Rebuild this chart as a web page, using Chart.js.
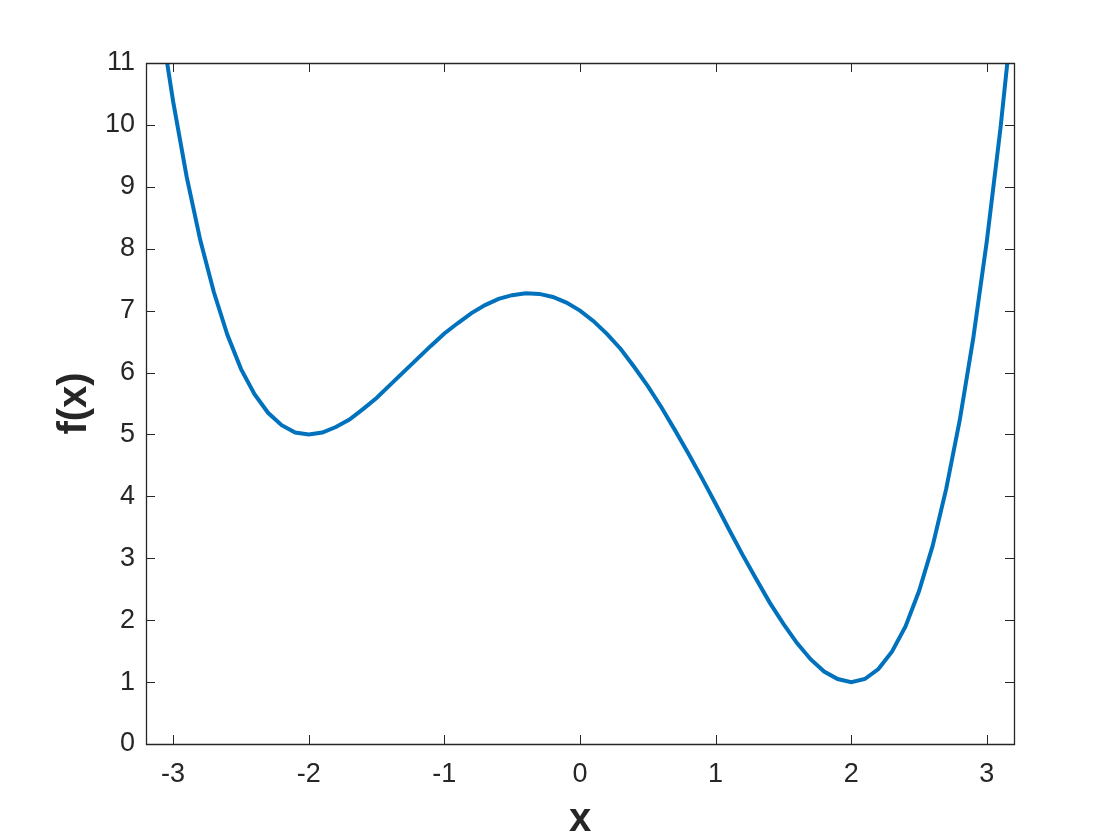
<!DOCTYPE html>
<html>
<head>
<meta charset="utf-8">
<script src="https://cdn.jsdelivr.net/npm/chart.js@4.4.1/dist/chart.umd.min.js"></script>
<style>
html,body{margin:0;padding:0;background:#fff;}
#wrap{width:1120px;height:840px;position:relative;}
</style>
</head>
<body>
<div id="wrap"><canvas id="c" width="1120" height="840"></canvas></div>
<script>
const xValues = [-3.2,-3.1,-3.0,-2.9,-2.8,-2.7,-2.6,-2.5,-2.4,-2.3,-2.2,-2.1,-2.0,-1.9,-1.8,-1.7,-1.6,-1.5,-1.4,-1.3,-1.2,-1.1,-1.0,-0.9,-0.8,-0.7,-0.6,-0.5,-0.4,-0.3,-0.2,-0.1,0.0,0.1,0.2,0.3,0.4,0.5,0.6,0.7,0.8,0.9,1.0,1.1,1.2,1.3,1.4,1.5,1.6,1.7,1.8,1.9,2.0,2.1,2.2,2.3,2.4,2.5,2.6,2.7,2.8,2.9,3.0,3.1,3.2];
const fValues = [13.44,11.79,10.38,9.16,8.14,7.30,6.61,6.06,5.65,5.35,5.15,5.03,5.00,5.03,5.12,5.24,5.41,5.59,5.80,6.01,6.22,6.43,6.63,6.80,6.96,7.09,7.19,7.25,7.28,7.27,7.22,7.13,7.00,6.83,6.62,6.38,6.09,5.78,5.44,5.07,4.69,4.29,3.88,3.46,3.05,2.66,2.28,1.94,1.63,1.37,1.17,1.05,1.00,1.05,1.21,1.49,1.90,2.47,3.20,4.12,5.23,6.56,8.13,9.94,12.03];
const xTicks = [-3,-2,-1,0,1,2,3];
const yTicks = [0,1,2,3,4,5,6,7,8,9,10,11];
const xLabel = 'x';
const yLabel = 'f(x)';

const points = xValues.map((x,i)=>({x:x,y:fValues[i]}));
const FONT = "'Liberation Sans', Arial, Helvetica, sans-serif";
const TXT = '#262626';

const boxPlugin = {
  id:'box',
  afterDatasetsDraw(chart){
    const ctx = chart.ctx, a = chart.chartArea;
    const xs = chart.scales.x, ys = chart.scales.y;
    ctx.save();
    ctx.strokeStyle = TXT;
    ctx.lineWidth = 1.3;
    ctx.beginPath();
    ctx.rect(Math.round(a.left)+0.5, Math.round(a.top)+0.5, Math.round(a.right-a.left), Math.round(a.bottom-a.top));
    ctx.stroke();
    const L = 9;
    ctx.lineWidth = 1;
    ctx.beginPath();
    xs.ticks.forEach(t=>{
      const px = Math.round(xs.getPixelForValue(t.value))+0.5;
      ctx.moveTo(px,a.bottom); ctx.lineTo(px,a.bottom-L);
      ctx.moveTo(px,a.top); ctx.lineTo(px,a.top+L);
    });
    ys.ticks.forEach(t=>{
      const py = Math.round(ys.getPixelForValue(t.value))+0.5;
      ctx.moveTo(a.left,py); ctx.lineTo(a.left+L,py);
      ctx.moveTo(a.right,py); ctx.lineTo(a.right-L,py);
    });
    ctx.stroke();
    ctx.restore();
  }
};

new Chart(document.getElementById('c'), {
  type:'line',
  data:{datasets:[{
    data:points,
    borderColor:'#0072BD',
    borderWidth:4,
    pointRadius:0,
    tension:0,
    fill:false
  }]},
  options:{
    responsive:false,
    animation:false,
    events:[],
    layout:{padding:{top:63,right:106,left:0,bottom:0}},
    plugins:{legend:{display:false},tooltip:{enabled:false}},
    scales:{
      x:{
        type:'linear', min:-3.2, max:3.2,
        afterBuildTicks(s){ s.ticks = xTicks.map(v=>({value:v})); },
        afterFit(s){ s.height = 96; },
        grid:{display:false, drawTicks:false},
        border:{display:false},
        ticks:{color:TXT, padding:14, font:{family:FONT,size:27}, maxRotation:0,
               callback:(v)=>String(v)},
        title:{display:true, text:xLabel, color:TXT, padding:{top:0,bottom:0},
               font:{family:FONT,size:40,weight:'bold',lineHeight:1}}
      },
      y:{
        type:'linear', min:0, max:11,
        afterBuildTicks(s){ s.ticks = yTicks.map(v=>({value:v})); },
        afterFit(s){ s.width = 146; },
        grid:{display:false, drawTicks:false},
        border:{display:false},
        ticks:{color:TXT, padding:11, font:{family:FONT,size:27},
               callback:(v)=>String(v)},
        title:{display:true, text:yLabel, color:TXT, padding:{top:55,bottom:0},
               font:{family:FONT,size:40,weight:'bold',lineHeight:1}}
      }
    }
  },
  plugins:[boxPlugin]
});
</script>
</body>
</html>
